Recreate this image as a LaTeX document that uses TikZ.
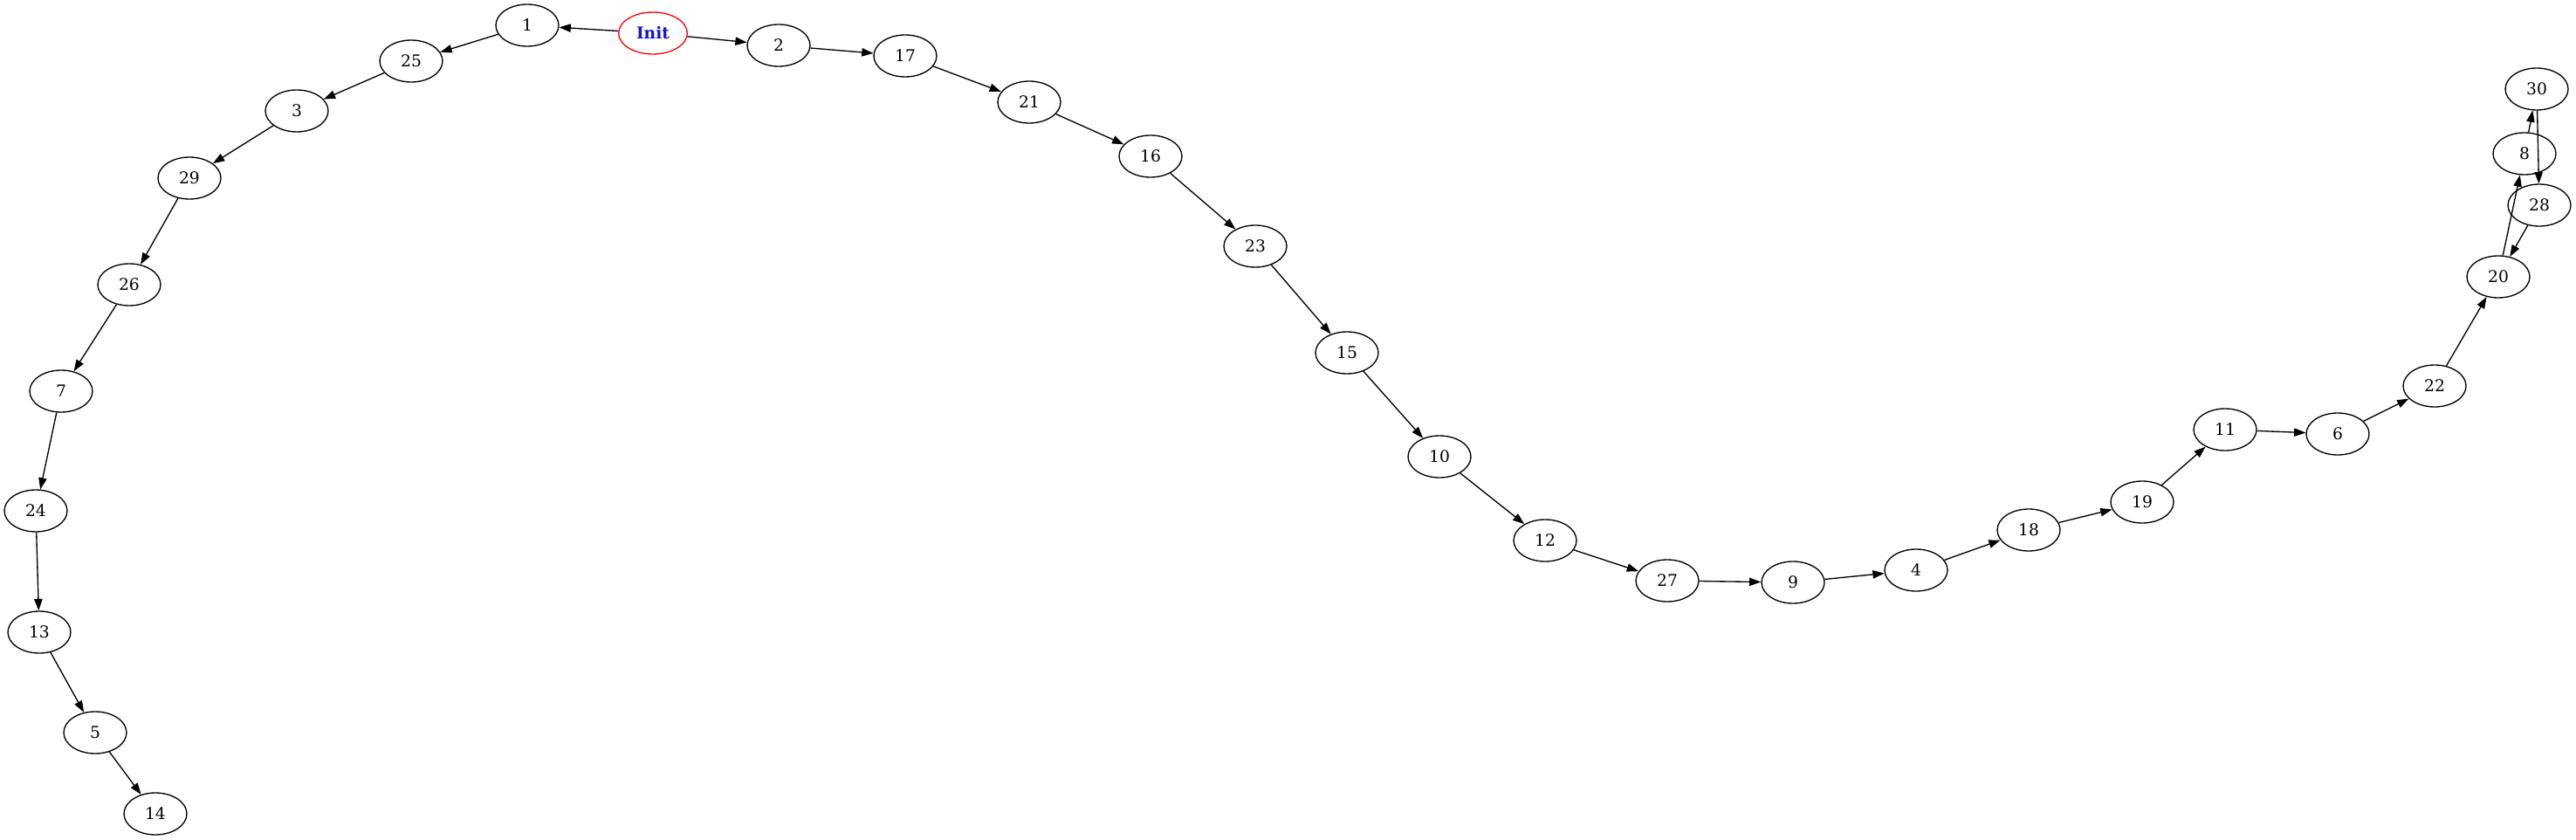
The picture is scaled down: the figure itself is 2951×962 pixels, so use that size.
\documentclass[tikz,border=0pt]{standalone}
\usepackage{fontspec}
\setmainfont{DejaVu Serif}
\usepackage{xcolor}
\usetikzlibrary{arrows.meta, shapes.geometric}
\definecolor{initblue}{RGB}{20,20,200}
\tikzset{%
	state node/.style={
		ellipse,
		draw,
		line width=1pt,
		minimum width=54pt,
		minimum height=36pt,
		inner sep=0pt,
		font=\fontsize{14}{16}\selectfont
	},
	start node/.style={
		state node,
		draw=red,
		text=initblue,
		minimum width=59pt,
		font=\fontsize{14}{16}\selectfont\bfseries
	},
	link/.style={
		-{Triangle[length=10pt,width=7pt]},
		line width=1pt
	},
}
\begin{document}
\begin{tikzpicture}[x=0.75pt,y=-0.75pt]
			\useasboundingbox (0,0) rectangle (2951,962);
			
			% Start node
			\node[start node] (init) at (748,38) {Init};
			
			% Left branch
			\node[state node] (n1) at (604,29) {1};
			\node[state node] (n25) at (471,70) {25};
			\node[state node] (n3) at (340,127) {3};
			\node[state node] (n29) at (217,204) {29};
			\node[state node] (n26) at (148,326) {26};
			\node[state node] (n7) at (70,448) {7};
			\node[state node] (n24) at (41,585) {24};
			\node[state node] (n13) at (45,724) {13};
			\node[state node] (n5) at (109,839) {5};
			\node[state node] (n14) at (178,932) {14};
			
			% Right branch
			\node[state node] (n2) at (892,52) {2};
			\node[state node] (n17) at (1037,64) {17};
			\node[state node] (n21) at (1179,117) {21};
			\node[state node] (n16) at (1318,179) {16};
			\node[state node] (n23) at (1438,282) {23};
			\node[state node] (n15) at (1543,404) {15};
			\node[state node] (n10) at (1649,523) {10};
			\node[state node] (n12) at (1770,619) {12};
			\node[state node] (n27) at (1910,665) {27};
			\node[state node] (n9) at (2054,667) {9};
			\node[state node] (n4) at (2195,653) {4};
			\node[state node] (n18) at (2324,607) {18};
			\node[state node] (n19) at (2454,575) {19};
			\node[state node] (n11) at (2549,492) {11};
			\node[state node] (n6) at (2678,497) {6};
			\node[state node] (n22) at (2789,442) {22};
			\node[state node] (n20) at (2862,317) {20};
			\node[state node] (n28) at (2909,235) {28};
			\node[state node] (n8) at (2892,176) {8};
			\node[state node] (n30) at (2906,102) {30};
			
			% Draw the links
			\foreach \a/\b in {init/n1, n1/n25, n25/n3, n3/n29, n29/n26, n26/n7, n7/n24, n24/n13, n13/n5, n5/n14,
				init/n2, n2/n17, n17/n21, n21/n16, n16/n23, n23/n15, n15/n10, n10/n12, n12/n27, n27/n9,
				n9/n4, n4/n18, n18/n19, n19/n11, n11/n6, n6/n22, n22/n20, n20/n8, n8/n30, n30/n28, n28/n20}
				\draw[link] (\a) -- (\b);
			
		\end{tikzpicture}
\end{document}
